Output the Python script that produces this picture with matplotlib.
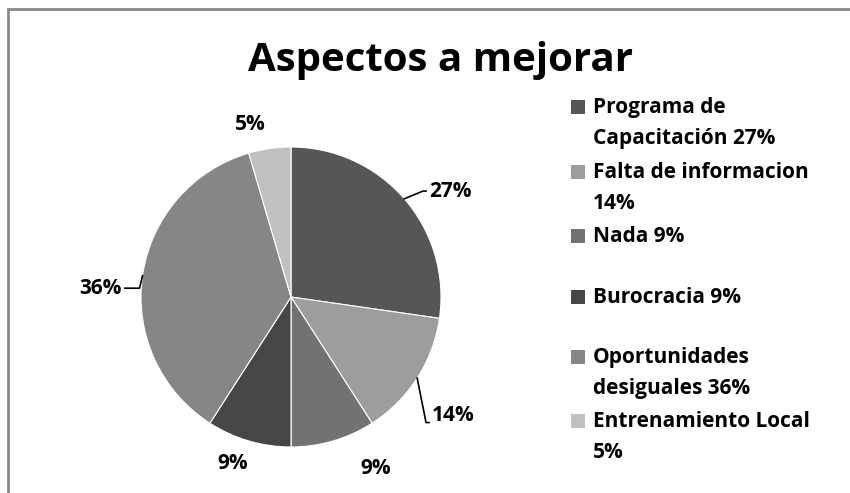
import matplotlib.pyplot as plt
from matplotlib.patches import Rectangle
import numpy as np

plt.rcParams['font.family'] = ['Open Sans', 'DejaVu Sans']

title = "Aspectos a mejorar"
categories = ['Programa de\nCapacitación 27%', 'Falta de informacion\n14%', 'Nada 9%',
              'Burocracia 9%', 'Oportunidades\ndesiguales 36%', 'Entrenamiento Local\n5%']
counts = [6, 3, 2, 2, 8, 1]
colors = ['#565656', '#9d9d9d', '#727272', '#464646', '#868686', '#c0c0c0']

W, H = 850, 493
fig = plt.figure(figsize=(W / 100, H / 100), dpi=100)

# chart area border (runs off the right and bottom edge)
fig.patches.append(Rectangle((8 / W, -0.1), 1.0, 1 - 8.5 / H + 0.1, transform=fig.transFigure,
                             fill=False, edgecolor='#888888', linewidth=2))

fig.text(440 / W, 1 - 60 / H, title, ha='center', va='center', fontsize=29, fontweight='bold')

# pie axes: center (291, 297) px, radius 150 px
cx, cy, r = 291, 297, 150
half = 200
ax = fig.add_axes([(cx - half) / W, (H - cy - half) / H, 2 * half / W, 2 * half / H])
wedges, _ = ax.pie(counts, colors=colors, startangle=90, counterclock=False, radius=1,
                   wedgeprops=dict(linewidth=0.8, edgecolor='white'))
ax.set_xlim(-half / r, half / r)
ax.set_ylim(-half / r, half / r)
ax.set_aspect('equal')
ax.axis('off')

total = sum(counts)
pcts = ['%.0f%%' % (c / total * 100) for c in counts]
# label radius and angle shift (degrees) from the wedge middle
label_pos = [(1.16, -3.4), (1.226, -7.2), (1.273, 10), (1.173, -2.9), (1.129, 5.2), (1.185, 5.1)]
# leader line start: angle shift from wedge middle (None = no leader)
leader = [0, 0, None, None, 0, None]
for w, txt, (lr, da), ld in zip(wedges, pcts, label_pos, leader):
    mid = (w.theta1 + w.theta2) / 2
    ang = np.deg2rad(mid + da)
    tx, ty = lr * np.cos(ang), lr * np.sin(ang)
    ha = 'center'
    if ld is not None:
        a0 = np.deg2rad(mid + ld)
        ex, ey = np.cos(a0), np.sin(a0)
        if tx > 0:
            ha = 'left'
            ax.plot([ex, tx - 0.04, tx - 0.02], [ey, ty - 0.05, ty - 0.05] if ty < 0 else [ey, ty, ty],
                    color='black', lw=1.2, clip_on=False)
        else:
            ha = 'right'
            ax.plot([ex, ex - 0.02, tx + 0.02], [ey, ty, ty], color='black', lw=1.2, clip_on=False)
    ax.text(tx, ty, txt, ha=ha, va='center', fontsize=15, fontweight='bold')

# legend, laid out like the original
leg_y = [107, 172, 236, 297, 357, 421]
for lab, col, y in zip(categories, colors, leg_y):
    fig.patches.append(Rectangle((571 / W, 1 - (y + 7) / H), 14 / W, 14 / H,
                                 transform=fig.transFigure, facecolor=col, edgecolor='none'))
    fig.text(593 / W, 1 - (y - 10) / H, lab, ha='left', va='top', fontsize=15,
             fontweight='bold', linespacing=1.6)

fig.savefig('out.png', dpi=100)
